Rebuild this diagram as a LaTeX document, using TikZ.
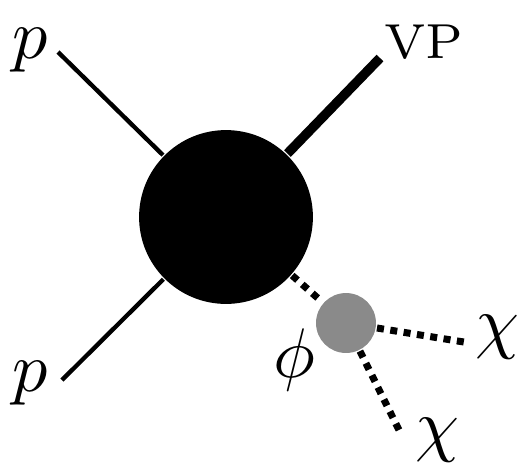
\documentclass[tikz,border=0pt]{standalone}
\usepackage{amsmath, amssymb}
\usepackage{tikz}
\definecolor{blobGray}{RGB}{138, 138, 138}

\begin{document}
\begin{tikzpicture}[x=0.005cm, y=-0.005cm,
    quark/.style={line width=0.62pt},
    boson/.style={line width=1.35pt},
    scalar/.style={line width=1pt, dash pattern=on 1pt off 0.92pt},
    lbl/.style={inner sep=0pt}]
        \useasboundingbox (0,0) rectangle (520,466);
        % vertices
        \node[circle, fill=black, inner sep=0pt, minimum size=0.87cm] (blob) at (226,217) {};
        \node[circle, fill=blobGray, inner sep=0pt, minimum size=0.30cm] (decay) at (346,323) {};
        % free line ends
        \coordinate (pInA) at (58,52);
        \coordinate (pInB) at (62,380);
        \coordinate (vpOut) at (380,58);
        \coordinate (chiOutA) at (470,343);
        \coordinate (chiOutB) at (400,432);
        % lines
        \draw[quark] (pInA) -- (blob);
        \draw[quark] (pInB) -- (blob);
        \draw[boson] (blob) -- (vpOut);
        \draw[scalar] (blob) -- (decay);
        \draw[scalar] (decay) -- (chiOutA);
        \draw[scalar] (decay) -- (chiOutB);
        % labels
        \node[lbl] (pLabelA) at (30,50) {$p$};
        \node[lbl] (pLabelB) at (30,383) {$p$};
        \node[lbl] (vpLabel) at (424,42) {$\scriptstyle\mathrm{VP}$};
        \node[lbl] (phiLabel) at (294,360) {$\phi$};
        \node[lbl] (chiLabelA) at (497,337) {$\chi$};
        \node[lbl] (chiLabelB) at (437,440) {$\chi$};
      \end{tikzpicture}
\end{document}
